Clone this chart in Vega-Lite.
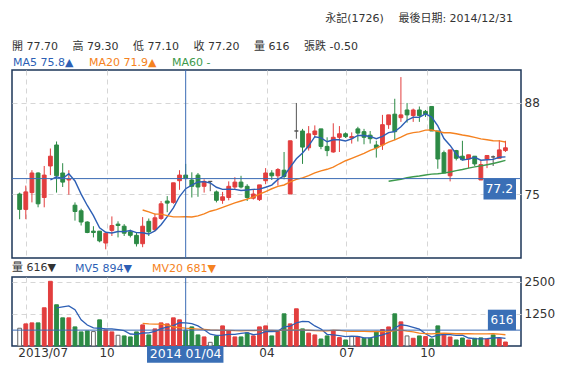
{
"$schema": "https://vega.github.io/schema/vega-lite/v6.json",
"padding": {"left": 10, "right": 0, "top": 12, "bottom": 0},
"spacing": 2,
"resolve": {"scale": {"color": "independent"}, "legend": {"color": "independent"}},
"config": {
  "font": "DejaVu Sans, Noto Sans CJK TC",
  "view": {"stroke": "#1d3658", "strokeWidth": 1.5},
  "axis": {"labelFontSize": 12, "labelColor": "#333333", "title": null, "domain": false, "ticks": false, "gridColor": "#d6d6d6", "gridDash": [5, 4], "gridWidth": 1},
  "legend": {"labelFontSize": 11, "titleFontSize": 11, "titleFontWeight": "normal", "titleColor": "#333333", "symbolType": "circle", "symbolSize": 0, "symbolOpacity": 0, "symbolStrokeWidth": 0, "labelOffset": -10, "padding": 0, "labelLimit": 0, "titleLimit": 1000}
},
"datasets": {"w": [
{"d":"2013-06-24","o":75.0,"h":75.2,"l":71.4,"c":72.8,"v":690,"vc":"f"},
{"d":"2013-07-01","o":72.8,"h":76.2,"l":71.4,"c":75.3,"v":859,"vc":"u"},
{"d":"2013-07-08","o":75.2,"h":78.4,"l":73.8,"c":78.0,"v":898,"vc":"u"},
{"d":"2013-07-15","o":78.0,"h":78.1,"l":73.1,"c":73.6,"v":898,"vc":"d"},
{"d":"2013-07-22","o":74.5,"h":79.0,"l":73.1,"c":77.7,"v":1484,"vc":"u"},
{"d":"2013-07-29","o":79.0,"h":81.5,"l":77.7,"c":80.4,"v":2513,"vc":"u","ma5":77.0},
{"d":"2013-08-05","o":82.0,"h":82.5,"l":75.2,"c":77.6,"v":1602,"vc":"d","ma5":77.46,"mv5":1479},
{"d":"2013-08-12","o":78.0,"h":79.4,"l":76.0,"c":76.7,"v":1094,"vc":"d","ma5":77.2,"mv5":1518},
{"d":"2013-08-19","o":77.0,"h":78.4,"l":74.9,"c":77.1,"v":1094,"vc":"u","ma5":77.9,"mv5":1557},
{"d":"2013-08-26","o":73.4,"h":73.8,"l":71.2,"c":72.5,"v":742,"vc":"d","ma5":76.86,"mv5":1409},
{"d":"2013-09-02","o":72.6,"h":72.9,"l":70.5,"c":71.0,"v":547,"vc":"d","ma5":74.98,"mv5":1016},
{"d":"2013-09-09","o":71.0,"h":71.1,"l":69.4,"c":69.5,"v":586,"vc":"d","ma5":73.36,"mv5":813},
{"d":"2013-09-16","o":69.7,"h":70.4,"l":68.8,"c":69.5,"v":560,"vc":"f","ma5":71.92,"mv5":706},
{"d":"2013-09-23","o":69.7,"h":69.7,"l":68.1,"c":68.3,"v":1016,"vc":"d","ma5":70.16,"mv5":690},
{"d":"2013-09-30","o":68.0,"h":69.4,"l":67.1,"c":69.4,"v":625,"vc":"u","ma5":69.54,"mv5":667},
{"d":"2013-10-07","o":69.8,"h":71.8,"l":69.0,"c":70.5,"v":547,"vc":"u","ma5":69.44,"mv5":667},
{"d":"2013-10-14","o":70.7,"h":71.1,"l":68.8,"c":70.5,"v":417,"vc":"f","ma5":69.64,"mv5":633},
{"d":"2013-10-21","o":70.4,"h":70.7,"l":69.0,"c":69.4,"v":391,"vc":"d","ma5":69.62,"mv5":599},
{"d":"2013-10-28","o":69.6,"h":69.9,"l":68.8,"c":69.1,"v":352,"vc":"d","ma5":69.78,"mv5":466},
{"d":"2013-11-04","o":69.1,"h":69.5,"l":67.5,"c":67.9,"v":547,"vc":"d","ma5":69.48,"mv5":451},
{"d":"2013-11-11","o":67.9,"h":71.7,"l":67.4,"c":70.4,"v":820,"vc":"u","ma5":69.46,"mv5":505,"ma20":72.72,"mv20":880},
{"d":"2013-11-18","o":71.1,"h":71.5,"l":69.0,"c":69.6,"v":430,"vc":"d","ma5":69.28,"mv5":508,"ma20":72.44,"mv20":858},
{"d":"2013-11-25","o":69.9,"h":72.2,"l":69.7,"c":71.6,"v":664,"vc":"u","ma5":69.72,"mv5":563,"ma20":72.12,"mv20":846},
{"d":"2013-12-02","o":71.5,"h":74.0,"l":71.3,"c":73.6,"v":898,"vc":"u","ma5":70.62,"mv5":672,"ma20":72.12,"mv20":846},
{"d":"2013-12-09","o":74.0,"h":74.7,"l":72.4,"c":73.7,"v":859,"vc":"u","ma5":71.78,"mv5":734,"ma20":71.92,"mv20":815},
{"d":"2013-12-16","o":73.8,"h":76.6,"l":73.6,"c":76.6,"v":1094,"vc":"u","ma5":73.02,"mv5":789,"ma20":71.73,"mv20":744},
{"d":"2013-12-23","o":76.9,"h":78.4,"l":75.6,"c":77.7,"v":1016,"vc":"u","ma5":74.64,"mv5":906,"ma20":71.73,"mv20":715},
{"d":"2013-12-30","o":77.7,"h":79.3,"l":77.1,"c":77.2,"v":616,"vc":"d","ma5":75.76,"mv5":897,"ma20":71.76,"mv20":691},
{"d":"2014-01-06","o":77.0,"h":78.1,"l":74.5,"c":76.1,"v":742,"vc":"d","ma5":76.26,"mv5":865,"ma20":71.71,"mv20":673},
{"d":"2014-01-13","o":77.7,"h":78.0,"l":74.6,"c":76.0,"v":430,"vc":"d","ma5":76.72,"mv5":780,"ma20":71.88,"mv20":658},
{"d":"2014-01-20","o":76.1,"h":77.1,"l":75.2,"c":76.8,"v":352,"vc":"u","ma5":76.76,"mv5":631,"ma20":72.17,"mv20":648},
{"d":"2014-01-27","o":76.8,"h":76.8,"l":75.4,"c":76.8,"v":143,"vc":"f","ma5":76.58,"mv5":457,"ma20":72.54,"mv20":626},
{"d":"2014-02-03","o":75.3,"h":75.5,"l":73.8,"c":74.1,"v":391,"vc":"d","ma5":75.96,"mv5":412,"ma20":72.77,"mv20":618},
{"d":"2014-02-10","o":74.1,"h":75.3,"l":73.6,"c":74.6,"v":781,"vc":"u","ma5":75.66,"mv5":419,"ma20":73.08,"mv20":606},
{"d":"2014-02-17","o":74.5,"h":76.8,"l":74.1,"c":76.1,"v":586,"vc":"u","ma5":75.68,"mv5":451,"ma20":73.42,"mv20":604},
{"d":"2014-02-24","o":76.0,"h":77.4,"l":75.7,"c":76.7,"v":352,"vc":"u","ma5":75.66,"mv5":451,"ma20":73.73,"mv20":594},
{"d":"2014-03-03","o":76.7,"h":77.6,"l":75.8,"c":76.0,"v":352,"vc":"d","ma5":75.5,"mv5":492,"ma20":74.0,"mv20":591},
{"d":"2014-03-10","o":76.1,"h":76.4,"l":74.0,"c":74.5,"v":508,"vc":"d","ma5":75.58,"mv5":516,"ma20":74.26,"mv20":597},
{"d":"2014-03-17","o":74.4,"h":75.7,"l":74.2,"c":75.0,"v":391,"vc":"u","ma5":75.66,"mv5":438,"ma20":74.55,"mv20":599},
{"d":"2014-03-24","o":74.2,"h":76.3,"l":74.0,"c":76.3,"v":742,"vc":"u","ma5":75.7,"mv5":469,"ma20":74.97,"mv20":608},
{"d":"2014-03-31","o":76.9,"h":78.7,"l":76.4,"c":78.0,"v":781,"vc":"u","ma5":75.96,"mv5":555,"ma20":75.35,"mv20":606},
{"d":"2014-04-07","o":78.0,"h":78.4,"l":77.0,"c":77.6,"v":391,"vc":"d","ma5":76.28,"mv5":563,"ma20":75.75,"mv20":604},
{"d":"2014-04-14","o":77.6,"h":78.7,"l":76.2,"c":78.5,"v":560,"vc":"u","ma5":77.08,"mv5":573,"ma20":76.1,"mv20":599},
{"d":"2014-04-21","o":78.4,"h":81.0,"l":77.1,"c":77.5,"v":1250,"vc":"d","ma5":77.58,"mv5":745,"ma20":76.29,"mv20":617},
{"d":"2014-04-28","o":75.0,"h":82.6,"l":75.0,"c":82.6,"v":859,"vc":"u","ma5":78.84,"mv5":768,"ma20":76.74,"mv20":617},
{"d":"2014-05-05","o":84.0,"h":88.0,"l":82.9,"c":84.0,"v":1445,"vc":"u","ma5":80.04,"mv5":901,"ma20":77.1,"mv20":634},
{"d":"2014-05-12","o":84.0,"h":84.3,"l":79.3,"c":81.7,"v":664,"vc":"d","ma5":80.86,"mv5":956,"ma20":77.3,"mv20":617},
{"d":"2014-05-19","o":81.6,"h":84.7,"l":81.2,"c":83.6,"v":500,"vc":"u","ma5":81.88,"mv5":944,"ma20":77.63,"mv20":611},
{"d":"2014-05-26","o":83.5,"h":84.8,"l":83.1,"c":84.0,"v":430,"vc":"u","ma5":83.18,"mv5":780,"ma20":78.02,"mv20":595},
{"d":"2014-06-02","o":84.3,"h":84.3,"l":81.4,"c":81.8,"v":273,"vc":"d","ma5":83.02,"mv5":662,"ma20":78.31,"mv20":588},
{"d":"2014-06-09","o":81.8,"h":83.1,"l":80.4,"c":81.2,"v":391,"vc":"d","ma5":82.46,"mv5":452,"ma20":78.53,"mv20":590},
{"d":"2014-06-16","o":81.0,"h":85.1,"l":80.9,"c":83.1,"v":586,"vc":"u","ma5":82.74,"mv5":436,"ma20":78.85,"mv20":612},
{"d":"2014-06-23","o":83.1,"h":84.7,"l":81.0,"c":83.6,"v":326,"vc":"u","ma5":82.74,"mv5":401,"ma20":79.32,"mv20":608},
{"d":"2014-06-30","o":83.6,"h":83.8,"l":83.0,"c":83.2,"v":234,"vc":"d","ma5":82.58,"mv5":362,"ma20":79.75,"mv20":581},
{"d":"2014-07-07","o":83.0,"h":83.8,"l":82.2,"c":83.2,"v":365,"vc":"f","ma5":82.86,"mv5":380,"ma20":80.1,"mv20":570},
{"d":"2014-07-14","o":84.3,"h":84.6,"l":82.5,"c":83.7,"v":365,"vc":"u","ma5":83.36,"mv5":375,"ma20":80.46,"mv20":571},
{"d":"2014-07-21","o":83.9,"h":84.3,"l":82.1,"c":83.1,"v":300,"vc":"d","ma5":83.36,"mv5":318,"ma20":80.81,"mv20":568},
{"d":"2014-07-28","o":83.4,"h":84.0,"l":82.2,"c":82.9,"v":300,"vc":"d","ma5":83.22,"mv5":313,"ma20":81.23,"mv20":558},
{"d":"2014-08-04","o":82.0,"h":82.6,"l":80.2,"c":81.6,"v":560,"vc":"d","ma5":82.9,"mv5":378,"ma20":81.56,"mv20":566},
{"d":"2014-08-11","o":82.0,"h":86.3,"l":81.3,"c":84.9,"v":640,"vc":"u","ma5":83.24,"mv5":433,"ma20":81.99,"mv20":561},
{"d":"2014-08-18","o":84.9,"h":86.3,"l":84.3,"c":86.3,"v":740,"vc":"u","ma5":83.76,"mv5":508,"ma20":82.4,"mv20":559,"ma60":76.83},
{"d":"2014-08-25","o":86.4,"h":88.6,"l":82.7,"c":83.9,"v":1250,"vc":"d","ma5":83.92,"mv5":698,"ma20":82.72,"mv20":602,"ma60":76.97},
{"d":"2014-09-01","o":85.9,"h":91.7,"l":85.3,"c":86.3,"v":937,"vc":"u","ma5":84.6,"mv5":825,"ma20":83.11,"mv20":621,"ma60":77.11},
{"d":"2014-09-08","o":87.0,"h":88.0,"l":85.2,"c":86.3,"v":391,"vc":"f","ma5":85.54,"mv5":792,"ma20":83.55,"mv20":578,"ma60":77.32},
{"d":"2014-09-15","o":86.2,"h":87.2,"l":85.3,"c":87.0,"v":300,"vc":"u","ma5":85.96,"mv5":724,"ma20":83.77,"mv20":550,"ma60":77.47},
{"d":"2014-09-22","o":87.0,"h":87.5,"l":85.3,"c":86.2,"v":391,"vc":"d","ma5":85.94,"mv5":654,"ma20":83.88,"mv20":497,"ma60":77.57},
{"d":"2014-09-29","o":86.8,"h":87.0,"l":86.0,"c":86.4,"v":365,"vc":"u","ma5":86.44,"mv5":477,"ma20":84.12,"mv20":482,"ma60":77.72},
{"d":"2014-10-06","o":87.5,"h":87.5,"l":84.0,"c":84.0,"v":273,"vc":"d","ma5":85.98,"mv5":344,"ma20":84.14,"mv20":471,"ma60":77.84},
{"d":"2014-10-13","o":84.0,"h":84.0,"l":78.6,"c":80.0,"v":781,"vc":"d","ma5":84.72,"mv5":422,"ma20":83.94,"mv20":488,"ma60":77.89},
{"d":"2014-10-20","o":80.9,"h":81.2,"l":78.0,"c":78.0,"v":420,"vc":"u","ma5":82.92,"mv5":446,"ma20":83.75,"mv20":496,"ma60":77.98},
{"d":"2014-10-27","o":77.6,"h":81.3,"l":76.8,"c":81.3,"v":350,"vc":"u","ma5":81.94,"mv5":438,"ma20":83.75,"mv20":494,"ma60":78.15},
{"d":"2014-11-03","o":81.2,"h":81.3,"l":79.8,"c":80.1,"v":234,"vc":"d","ma5":80.68,"mv5":412,"ma20":83.6,"mv20":476,"ma60":78.33},
{"d":"2014-11-10","o":80.4,"h":82.6,"l":79.8,"c":79.9,"v":310,"vc":"d","ma5":79.86,"mv5":419,"ma20":83.42,"mv20":475,"ma60":78.5},
{"d":"2014-11-17","o":80.0,"h":80.6,"l":78.7,"c":80.6,"v":234,"vc":"u","ma5":79.98,"mv5":310,"ma20":83.29,"mv20":475,"ma60":78.7},
{"d":"2014-11-24","o":80.4,"h":80.4,"l":79.0,"c":79.3,"v":300,"vc":"d","ma5":80.24,"mv5":286,"ma20":83.09,"mv20":472,"ma60":78.87},
{"d":"2014-12-01","o":77.0,"h":79.8,"l":77.0,"c":79.2,"v":315,"vc":"d","ma5":79.82,"mv5":279,"ma20":82.87,"mv20":470,"ma60":79.02},
{"d":"2014-12-08","o":80.0,"h":80.5,"l":78.7,"c":80.5,"v":273,"vc":"u","ma5":79.9,"mv5":286,"ma20":82.74,"mv20":468,"ma60":79.18},
{"d":"2014-12-15","o":80.3,"h":80.5,"l":79.0,"c":80.3,"v":430,"vc":"d","ma5":79.94,"mv5":310,"ma20":82.61,"mv20":475,"ma60":79.36},
{"d":"2014-12-22","o":80.1,"h":82.7,"l":80.1,"c":81.3,"v":300,"vc":"u","ma5":80.24,"mv5":324,"ma20":82.59,"mv20":462,"ma60":79.57},
{"d":"2014-12-29","o":81.2,"h":82.6,"l":81.0,"c":81.6,"v":155,"vc":"u","ma5":80.3,"mv5":295,"ma20":82.43,"mv20":437,"ma60":79.8}
]},
"vconcat": [
{
  "width": 509, "height": 188,
  "title": {"text": "永記(1726)\u2003 最後日期: 2014/12/31", "anchor": "end", "frame": "group", "fontSize": 11, "fontWeight": "normal", "color": "#333333", "offset": 17, "dx": -8},
  "layer": [
    {
      "data": {"name": "w"},
      "mark": {"type": "rule", "strokeWidth": 1},
      "encoding": {
        "x": {"field": "d", "type": "temporal", "scale": {"type": "utc", "domain": [{"year": 2013, "month": 6, "date": 21, "utc": true}, {"year": 2015, "month": 1, "date": 10, "utc": true}]},
              "axis": {"values": [{"year": 2013, "month": 7, "date": 1, "utc": true}, {"year": 2013, "month": 10, "date": 1, "utc": true}, {"year": 2014, "month": 4, "date": 1, "utc": true}, {"year": 2014, "month": 7, "date": 1, "utc": true}, {"year": 2014, "month": 10, "date": 1, "utc": true}], "labels": false, "grid": true}},
        "y": {"field": "l", "type": "quantitative", "scale": {"domain": [65.86, 92.71], "nice": false, "zero": false},
              "axis": {"orient": "right", "values": [75, 88], "grid": true, "labelPadding": 3}},
        "y2": {"field": "h"},
        "color": {"condition": [{"test": "datum.c > datum.o", "value": "#e23e3e"}, {"test": "datum.c < datum.o", "value": "#2c8a45"}], "value": "#555555"}
      }
    },
    {
      "data": {"name": "w"},
      "mark": {"type": "bar", "size": 3.8, "strokeWidth": 1},
      "encoding": {
        "x": {"field": "d", "type": "temporal"},
        "y": {"field": "o", "type": "quantitative"},
        "y2": {"field": "c"},
        "fill": {"condition": [{"test": "datum.c > datum.o", "value": "#e23e3e"}, {"test": "datum.c < datum.o", "value": "#2c8a45"}], "value": "#555555"},
        "stroke": {"condition": [{"test": "datum.c > datum.o", "value": "#e23e3e"}, {"test": "datum.c < datum.o", "value": "#2c8a45"}], "value": "#555555"}
      }
    },
    {
      "data": {"name": "w"},
      "transform": [{"fold": ["ma5", "ma20", "ma60"], "as": ["ma", "val"]}],
      "mark": {"type": "line", "strokeWidth": 1.4},
      "encoding": {
        "x": {"field": "d", "type": "temporal"},
        "y": {"field": "val", "type": "quantitative"},
        "color": {"field": "ma", "type": "nominal",
          "scale": {"domain": ["ma5", "ma20", "ma60"], "range": ["#2d5fb5", "#f58220", "#3d9a4c"]},
          "legend": {"orient": "top", "direction": "horizontal", "symbolType": "circle", "symbolSize": 0,
            "title": "開 77.70 \u2003高 79.30 \u2003低 77.10 \u2003收 77.20 \u2003量 616 \u2003張跌 -0.50",
            "titleOrient": "top", "titleAnchor": "start", "titlePadding": 5,
            "labelExpr": "datum.value == 'ma5' ? 'MA5 75.8▲' : datum.value == 'ma20' ? 'MA20 71.9▲' : 'MA60 -'",
            "labelColor": {"expr": "datum.value == 'ma5' ? '#2d5fb5' : datum.value == 'ma20' ? '#f58220' : '#3d9a4c'"},
            "columnPadding": 14, "offset": 2}}
      }
    },
    {
      "data": {"values": [{}]},
      "mark": {"type": "rule", "color": "#3b6cb4", "strokeWidth": 1},
      "encoding": {"x": {"datum": {"year": 2013, "month": 12, "date": 30, "utc": true}, "type": "temporal"}}
    },
    {
      "data": {"values": [{}]},
      "mark": {"type": "rule", "color": "#3b6cb4", "strokeWidth": 1},
      "encoding": {"y": {"datum": 77.2, "type": "quantitative"}}
    },
    {
      "data": {"values": [{}]},
      "mark": {"type": "rect", "color": "#3a6fb6"},
      "encoding": {
        "x": {"datum": {"year": 2014, "month": 12, "date": 4, "utc": true}, "type": "temporal"},
        "x2": {"datum": {"year": 2015, "month": 1, "date": 10, "utc": true}},
        "y": {"datum": 77.2, "type": "quantitative"},
        "y2": {"datum": 74.2}
      }
    },
    {
      "data": {"values": [{"t": "77.2"}]},
      "mark": {"type": "text", "color": "#ffffff", "fontSize": 12.5},
      "encoding": {
        "x": {"datum": {"year": 2014, "month": 12, "date": 22, "utc": true}, "type": "temporal"},
        "y": {"datum": 75.7, "type": "quantitative"},
        "text": {"field": "t"}
      }
    }
  ]
},
{
  "width": 509, "height": 69,
  "layer": [
    {
      "data": {"name": "w"},
      "mark": {"type": "bar", "size": 3.8, "strokeWidth": 1},
      "encoding": {
        "x": {"field": "d", "type": "temporal", "scale": {"type": "utc", "domain": [{"year": 2013, "month": 6, "date": 21, "utc": true}, {"year": 2015, "month": 1, "date": 10, "utc": true}]},
              "axis": {"values": [{"year": 2013, "month": 7, "date": 1, "utc": true}, {"year": 2013, "month": 10, "date": 1, "utc": true}, {"year": 2014, "month": 4, "date": 1, "utc": true}, {"year": 2014, "month": 7, "date": 1, "utc": true}, {"year": 2014, "month": 10, "date": 1, "utc": true}],
                       "grid": true, "labelPadding": 1, "labelFlush": false,
                       "labelAlign": {"condition": {"test": "utcyear(datum.value) == 2013 && utcmonth(datum.value) == 6", "value": "left"}, "value": "center"},
                       "labelOffset": {"condition": {"test": "utcyear(datum.value) == 2013 && utcmonth(datum.value) == 6", "value": -8}, "value": 0},
                       "labelExpr": "utcyear(datum.value) == 2013 && utcmonth(datum.value) == 6 ? '2013/07' : utcFormat(datum.value, '%m')"}},
        "y": {"field": "v", "type": "quantitative", "scale": {"domain": [0, 2680], "nice": false},
              "axis": {"orient": "right", "values": [1250, 2500], "format": "d", "grid": true, "labelPadding": 3}},
        "fill": {"condition": [{"test": "datum.vc == 'u'", "value": "#e23e3e"}, {"test": "datum.vc == 'd'", "value": "#2c8a45"}], "value": "#ffffff"},
        "stroke": {"condition": [{"test": "datum.vc == 'u'", "value": "#e23e3e"}, {"test": "datum.vc == 'd'", "value": "#2c8a45"}], "value": "#666666"}
      }
    },
    {
      "data": {"name": "w"},
      "transform": [{"fold": ["mv5", "mv20"], "as": ["mv", "val"]}],
      "mark": {"type": "line", "strokeWidth": 1.3},
      "encoding": {
        "x": {"field": "d", "type": "temporal"},
        "y": {"field": "val", "type": "quantitative"},
        "color": {"field": "mv", "type": "nominal",
          "scale": {"domain": ["mv5", "mv20"], "range": ["#2d5fb5", "#f58220"]},
          "legend": {"orient": "top", "direction": "horizontal", "symbolType": "circle", "symbolSize": 0,
            "title": "量 616▼", "titleOrient": "left", "titlePadding": 18,
            "labelExpr": "datum.value == 'mv5' ? 'MV5 894▼' : 'MV20 681▼'",
            "labelColor": {"expr": "datum.value == 'mv5' ? '#2d5fb5' : '#f58220'"},
            "columnPadding": 19, "offset": 3}}
      }
    },
    {
      "data": {"values": [{}]},
      "mark": {"type": "rule", "color": "#3b6cb4", "strokeWidth": 1},
      "encoding": {"x": {"datum": {"year": 2013, "month": 12, "date": 30, "utc": true}, "type": "temporal"}}
    },
    {
      "data": {"values": [{}]},
      "mark": {"type": "rule", "color": "#3b6cb4", "strokeWidth": 1},
      "encoding": {"y": {"datum": 616, "type": "quantitative"}}
    },
    {
      "data": {"values": [{}]},
      "mark": {"type": "rect", "color": "#3a6fb6"},
      "encoding": {
        "x": {"datum": {"year": 2014, "month": 12, "date": 9, "utc": true}, "type": "temporal"},
        "x2": {"datum": {"year": 2015, "month": 1, "date": 10, "utc": true}},
        "y": {"datum": 616, "type": "quantitative"},
        "y2": {"datum": 1410}
      }
    },
    {
      "data": {"values": [{"t": "616"}]},
      "mark": {"type": "text", "color": "#ffffff", "fontSize": 12},
      "encoding": {
        "x": {"datum": {"year": 2014, "month": 12, "date": 25, "utc": true}, "type": "temporal"},
        "y": {"datum": 1010, "type": "quantitative"},
        "text": {"field": "t"}
      }
    },
    {
      "data": {"values": [{}]},
      "mark": {"type": "rect", "color": "#3a6fb6"},
      "encoding": {
        "x": {"datum": {"year": 2013, "month": 11, "date": 16, "utc": true}, "type": "temporal"},
        "x2": {"datum": {"year": 2014, "month": 2, "date": 11, "utc": true}},
        "y": {"datum": 0, "type": "quantitative"},
        "y2": {"datum": -650}
      }
    },
    {
      "data": {"values": [{"t": "2014 01/04"}]},
      "mark": {"type": "text", "color": "#ffffff", "fontSize": 12.5},
      "encoding": {
        "x": {"datum": {"year": 2013, "month": 12, "date": 30, "utc": true}, "type": "temporal"},
        "y": {"datum": -325, "type": "quantitative"},
        "text": {"field": "t"}
      }
    }
  ]
}
]
}
